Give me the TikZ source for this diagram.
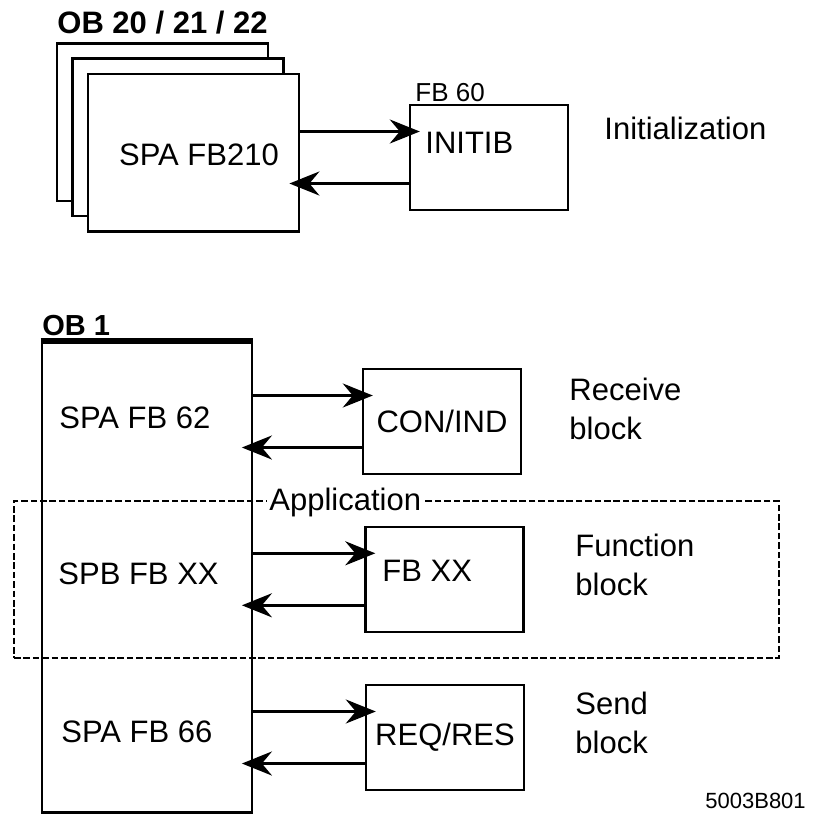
\documentclass[tikz,border=0pt]{standalone}
\usepackage{fontspec}
\setmainfont{Liberation Sans}
\usetikzlibrary{arrows.meta}

\begin{document}
\begin{tikzpicture}[x=0.5pt, y=-0.5pt,
    blk/.style={draw, line width=1.2pt, fill=white, inner sep=0pt,
                minimum width=79pt, minimum height=52.5pt,
                font=\fontsize{15.5}{19.4}\selectfont},
    stackbox/.style={blk, minimum width=105.5pt, minimum height=78.8pt},
    txt/.style={inner sep=0pt, align=left, font=\fontsize{15.5}{19.4}\selectfont},
    title/.style={inner sep=0pt, anchor=base west, font=\bfseries\fontsize{15.5}{18}\selectfont},
    call/.style={-{Stealth[length=15pt, width=12pt, inset=5pt]}, line width=1.5pt,
                 shorten >=-5.5pt},
    appframe/.style={draw, line width=1pt, dash pattern=on 3.3pt off 1.4pt,
                     minimum width=382.5pt, minimum height=78.5pt}]
    \useasboundingbox (0,0) rectangle (820,816);

    % Initialization: OB 20/21/22 calling FB 60
    \node[stackbox] (ob22) at (162.2,122.2) {};
    \node[stackbox] (ob21) at (177.8,137.4) {};
    \node[stackbox] (spa) at (193.7,152.5) {};
    \node[txt] (spatxt) at (199,155) {SPA FB210};
    \node[title] (obinit) at (57,33) {OB 20 / 21 / 22};

    \node[blk] (initib) at (489,157.5) {};
    \node[txt, anchor=north west] (initibtxt) at (425,131.7) {INITIB};
    \node[txt, anchor=north west, font=\fontsize{13}{15}\selectfont] (fb60) at (415,83.3) {FB 60};
    \node[txt, anchor=north west] (initlbl) at (604,116.7) {Initialization};

    \draw[call] ([yshift=13pt]initib.west -| spa.east) -- ([yshift=13pt]initib.west);
    \draw[call] ([yshift=-13pt]initib.west) -- ([yshift=-13pt]initib.west -| spa.east);

    % OB 1 with its calls
    \node[blk, minimum width=105pt, minimum height=235.3pt] (ob1) at (146.7,577.3) {};
    \draw[line width=3pt] (ob1.north west) -- (ob1.north east);
    \node[title, font=\bfseries\fontsize{14.5}{17}\selectfont] (ob1title) at (42,335) {OB 1};

    \node[txt, anchor=west] (fb62) at (59,417.5) {SPA FB 62};
    \node[txt, anchor=west] (fbxxcall) at (58,574) {SPB FB XX};
    \node[txt, anchor=west] (fb66) at (61,732) {SPA FB 66};

    \node[blk] (conind) at (442,421.5) {CON/IND};
    \node[blk] (fbxx) at (444.5,579.3) {};
    \node[txt, anchor=north west] (fbxxtxt) at (382,560) {FB XX};
    \node[blk] (reqres) at (445,737.5) {REQ/RES};

    \node[txt, anchor=north west] (recv) at (569,378) {Receive\\block};
    \node[txt, anchor=north west] (func) at (575,534) {Function\\block};
    \node[txt, anchor=north west] (send) at (575,692) {Send\\block};

    \foreach \callee in {conind,fbxx,reqres} {
        \draw[call] ([yshift=13pt]\callee.west -| ob1.east) -- ([yshift=13pt]\callee.west);
        \draw[call] ([yshift=-13pt]\callee.west) -- ([yshift=-13pt]\callee.west -| ob1.east);
    }

    % application frame
    \node[appframe] (app) at (396.5,579.5) {};
    \node[txt, anchor=base west, fill=white, inner sep=1pt] (applbl) at (267,510) {Application};

    \node[txt, anchor=north west, font=\fontsize{11}{13}\selectfont] (docid) at (705,793) {5003B801};
\end{tikzpicture}
\end{document}
